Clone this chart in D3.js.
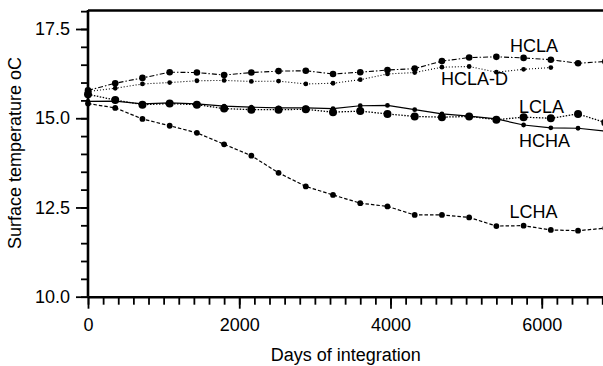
<!DOCTYPE html>
<html>
<head>
<meta charset="utf-8">
<script src="https://cdn.jsdelivr.net/npm/d3@7"></script>
<style>
  body { margin: 0; background: #fff; }
  text { font-family: "Liberation Sans", Arial, sans-serif; fill: #000; }
</style>
</head>
<body>
<svg id="chart" width="603" height="366"></svg>
<script>
// days of integration (one point every 360-day model year)
const days = [0, 360, 720, 1080, 1440, 1800, 2160, 2520, 2880, 3240,
  3600, 3960, 4320, 4680, 5040, 5400, 5760, 6120, 6480, 6840];

const hcla = [15.78, 15.98, 16.13, 16.29, 16.28, 16.21, 16.28, 16.32, 16.33, 16.24,
  16.29, 16.35, 16.39, 16.60, 16.70, 16.72, 16.69, 16.64, 16.54, 16.59];
const hclaD = [15.75, 15.84, 15.96, 16.00, 16.05, 16.06, 16.03, 16.04, 15.96, 15.98,
  16.08, 16.24, 16.28, 16.43, 16.45, 16.29, 16.37, 16.42];
const lcla = [15.67, 15.51, 15.38, 15.41, 15.38, 15.27, 15.24, 15.24, 15.25, 15.17,
  15.20, 15.12, 15.05, 15.03, 15.05, 14.96, 15.03, 15.00, 15.12, 14.88];
const hcha = [15.47, 15.48, 15.40, 15.43, 15.40, 15.34, 15.31, 15.29, 15.29, 15.27,
  15.35, 15.36, 15.24, 15.12, 15.06, 14.98, 14.81, 14.73, 14.72, 14.64];
const lcha = [15.41, 15.29, 14.98, 14.79, 14.59, 14.27, 13.95, 13.47, 13.09, 12.85,
  12.62, 12.53, 12.29, 12.29, 12.22, 11.98, 11.99, 11.87, 11.85, 11.92];

// tick labels
const xMajor = [0, 2000, 4000, 6000];
const yMajor = [10, 12.5, 15, 17.5];

const svg = d3.select('#chart');

// scales (the plot runs off the right edge of the picture)
const x = d3.scaleLinear().domain([0, 6810]).range([88, 603]);
const y = d3.scaleLinear().domain([10, 17.5]).range([296.7, 29]);

// minor ticks
const xMinor = d3.range(0, 6801, 200);
const yMinor = d3.range(10, 18.01, 0.5);

// bottom axis: minor then major
svg.append('g')
  .attr('transform', `translate(0,${y(10)})`)
  .call(d3.axisBottom(x).tickValues(xMinor).tickSize(8).tickSizeOuter(0).tickFormat(''))
  .call(g => g.select('.domain').remove());
const xAxis = svg.append('g')
  .attr('transform', `translate(0,${y(10)})`)
  .call(d3.axisBottom(x).tickValues(xMajor).tickSize(12).tickSizeOuter(0).tickPadding(10)
    .tickFormat(d3.format('d')));

// left axis: minor then major
svg.append('g')
  .attr('transform', `translate(${x(0)},0)`)
  .call(d3.axisLeft(y).tickValues(yMinor).tickSize(7).tickSizeOuter(0).tickFormat(''))
  .call(g => g.select('.domain').remove());
const yAxis = svg.append('g')
  .attr('transform', `translate(${x(0)},0)`)
  .call(d3.axisLeft(y).tickValues(yMajor).tickSize(12).tickSizeOuter(0).tickPadding(6)
    .tickFormat(d3.format('.1f')));

// left domain line should reach the top frame
yAxis.select('.domain').attr('d', `M0,${y(10)}V10`);

svg.selectAll('.tick line').attr('stroke', '#000').attr('stroke-width', 1.8);
svg.selectAll('.domain').attr('stroke', '#000').attr('stroke-width', 2.6);
svg.selectAll('.tick text').attr('font-size', 18).attr('font-family', '"Liberation Sans", Arial, sans-serif');

// top frame line
svg.append('line')
  .attr('x1', x(0)).attr('x2', 603)
  .attr('y1', 10.5).attr('y2', 10.5)
  .attr('stroke', '#000').attr('stroke-width', 2.3);

// series
const series = [
  { name: 'HCLA', values: hcla, dash: '5,2,1.5,2', r: 3.3, width: 1.1 },
  { name: 'HCLA-D', values: hclaD, dash: '1,2', r: 2.4, width: 1.1 },
  { name: 'LCLA', values: lcla, dash: '1.5,1.5', r: 4, width: 1.3 },
  { name: 'HCHA', values: hcha, dash: null, r: 2.4, width: 1.2 },
  { name: 'LCHA', values: lcha, dash: '3.5,2', r: 2.9, width: 1.2 }
];

const line = d3.line()
  .x(d => x(d[0]))
  .y(d => y(d[1]));

series.forEach(s => {
  const pts = s.values.map((v, i) => [days[i], v]);
  svg.append('path')
    .attr('d', line(pts))
    .attr('fill', 'none')
    .attr('stroke', '#000')
    .attr('stroke-width', s.width)
    .attr('stroke-dasharray', s.dash);
  svg.append('g')
    .selectAll('circle')
    .data(pts)
    .join('circle')
    .attr('cx', d => x(d[0]))
    .attr('cy', d => y(d[1]))
    .attr('r', s.r)
    .attr('fill', '#000');
});

// series labels
const labels = [
  { text: 'HCLA', x: 510, y: 52 },
  { text: 'HCLA-D', x: 441, y: 85 },
  { text: 'LCLA', x: 519, y: 112.7 },
  { text: 'HCHA', x: 519, y: 146.7 },
  { text: 'LCHA', x: 509.5, y: 218.3 }
];
svg.append('g')
  .selectAll('text')
  .data(labels)
  .join('text')
  .attr('x', d => d.x)
  .attr('y', d => d.y)
  .attr('font-size', 18)
  .text(d => d.text);

// axis titles
svg.append('text')
  .attr('x', 345.8)
  .attr('y', 360.7)
  .attr('text-anchor', 'middle')
  .attr('font-size', 18)
  .text('Days of integration');

svg.append('text')
  .attr('transform', 'translate(20.5,153) rotate(-90)')
  .attr('text-anchor', 'middle')
  .attr('font-size', 18)
  .text('Surface temperature oC');
</script>
</body>
</html>
